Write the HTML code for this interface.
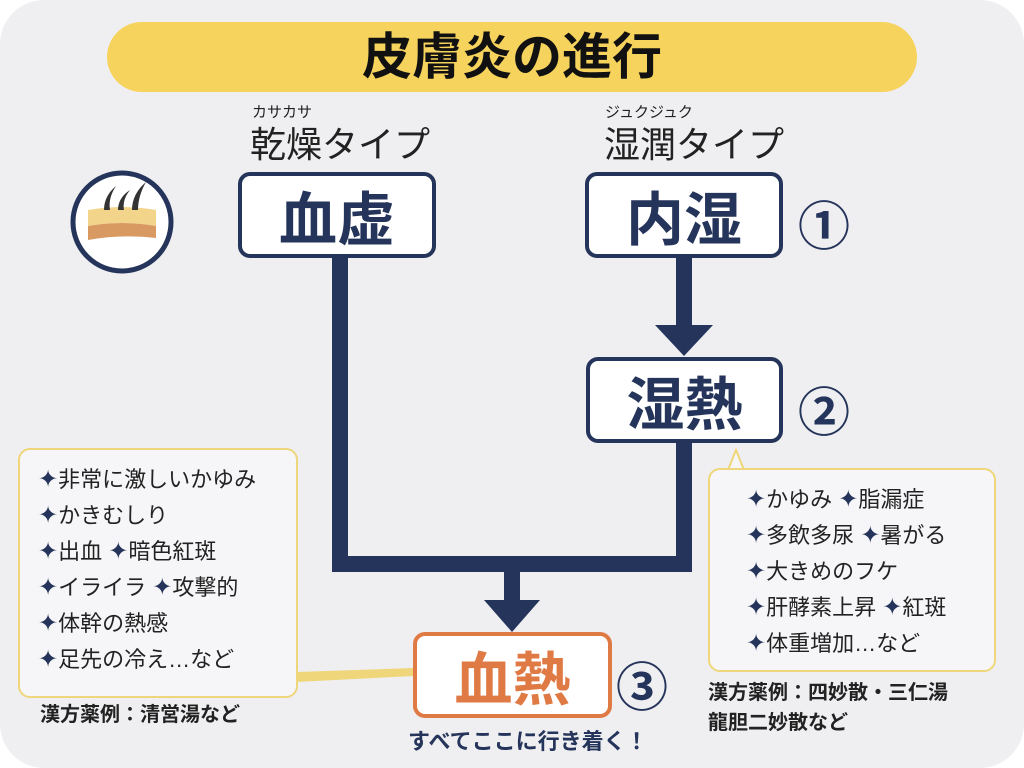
<!DOCTYPE html>
<html><head><meta charset="utf-8"><style>
body{margin:0;width:1024px;height:768px;background:#fff;overflow:hidden;font-family:"Liberation Sans","Noto Sans CJK JP",sans-serif;}
.a{position:absolute;}
.panel{left:0;top:0;width:1024px;height:768px;background:#efeff1;border-radius:44px;}
.box{position:absolute;background:#fff;border:4px solid #25345a;border-radius:12px;box-sizing:border-box;display:flex;align-items:center;justify-content:center;font-weight:bold;font-size:58px;color:#25345a;}
.num{position:absolute;font-size:52px;color:#25345a;font-weight:bold;}
.call{position:absolute;background:#f6f6f8;border:2px solid #efd67a;border-radius:12px;box-sizing:border-box;}
.ln{font-size:22px;color:#222;line-height:36px;white-space:nowrap;}
.ln b{color:#25345a;font-weight:normal;font-size:24px;}
.kp{font-size:20px;font-weight:bold;color:#222;white-space:nowrap;}
</style></head><body>
<div class="a panel"></div>
<div class="a" style="left:107px;top:22px;width:810px;height:70px;border-radius:35px;background:#f6d35c;"></div>
<div class="a" style="left:107px;top:22px;width:810px;height:70px;line-height:70px;text-align:center;font-size:50px;font-weight:bold;color:#111;">皮膚炎の進行</div>

<div class="a" style="left:252px;top:101px;font-size:15px;color:#222;">カサカサ</div>
<div class="a" style="left:250px;top:116px;font-size:36px;color:#222;">乾燥タイプ</div>
<div class="a" style="left:605px;top:101px;font-size:15px;color:#222;">ジュクジュク</div>
<div class="a" style="left:604px;top:116px;font-size:36px;color:#222;">湿潤タイプ</div>

<svg class="a" style="left:0;top:0" width="1024" height="768">
<circle cx="122" cy="222" r="49" fill="#fff" stroke="#25345a" stroke-width="5"/>
<path d="M88 210 Q122 204 156 210 L156 226 Q122 220 88 226 Z" fill="#f2d58a"/>
<path d="M88 226 Q122 220 156 226 L156 238 Q122 234 88 240 Z" fill="#d99a62"/>
<path d="M104 210 Q104 196 116 186 Q108 198 110 210Z" fill="#333"/>
<path d="M118 210 Q118 198 130 190 Q122 200 124 210Z" fill="#333"/>
<path d="M132 210 Q132 194 146 182 Q138 196 138 210Z" fill="#333"/>
<g fill="#25345a">
<rect x="332" y="256" width="16" height="316"/>
<rect x="332" y="556" width="360" height="16"/>
<rect x="676" y="440" width="16" height="132"/>
<rect x="504" y="570" width="16" height="32"/>
<polygon points="484,600 540,600 512,632"/>
<rect x="676" y="256" width="16" height="72"/>
<polygon points="655,325 713,325 684,356"/>
</g>
<polygon points="296,672 414,668 414,676 296,682" fill="#efd67a"/>
<polygon points="728,470 736,450 744,470" fill="#f6f6f8" stroke="#efd67a" stroke-width="2"/>
</svg>

<div class="box" style="left:238px;top:172px;width:198px;height:86px;">血虚</div>
<div class="box" style="left:585px;top:172px;width:198px;height:86px;">内湿</div>
<div class="num" style="left:798px;top:185px;">①</div>
<div class="box" style="left:586px;top:357px;width:197px;height:86px;">湿熱</div>
<div class="num" style="left:798px;top:371px;">②</div>
<div class="box" style="left:413px;top:632px;width:199px;height:86px;border-color:#e07a45;color:#e07a45;">血熱</div>
<div class="num" style="left:616px;top:646px;">③</div>
<div class="a" style="left:408px;top:724px;font-size:22px;font-weight:bold;color:#25345a;">すべてここに行き着く！</div>

<div class="call" style="left:18px;top:448px;width:280px;height:250px;"></div>
<div class="a" style="left:38px;top:462px;">
<div class="ln"><b>✦</b>非常に激しいかゆみ</div>
<div class="ln"><b>✦</b>かきむしり</div>
<div class="ln"><b>✦</b>出血 <b>✦</b>暗色紅斑</div>
<div class="ln"><b>✦</b>イライラ <b>✦</b>攻撃的</div>
<div class="ln"><b>✦</b>体幹の熱感</div>
<div class="ln"><b>✦</b>足先の冷え…など</div>
</div>
<div class="a kp" style="left:40px;top:698px;">漢方薬例：清営湯など</div>

<div class="call" style="left:708px;top:468px;width:288px;height:204px;"></div>
<div class="a" style="left:746px;top:482px;">
<div class="ln"><b>✦</b>かゆみ <b>✦</b>脂漏症</div>
<div class="ln"><b>✦</b>多飲多尿 <b>✦</b>暑がる</div>
<div class="ln"><b>✦</b>大きめのフケ</div>
<div class="ln"><b>✦</b>肝酵素上昇 <b>✦</b>紅斑</div>
<div class="ln"><b>✦</b>体重増加…など</div>
</div>
<div class="a kp" style="left:708px;top:678px;line-height:30px;">漢方薬例：四妙散・三仁湯<br>龍胆二妙散など</div>
</body></html>
